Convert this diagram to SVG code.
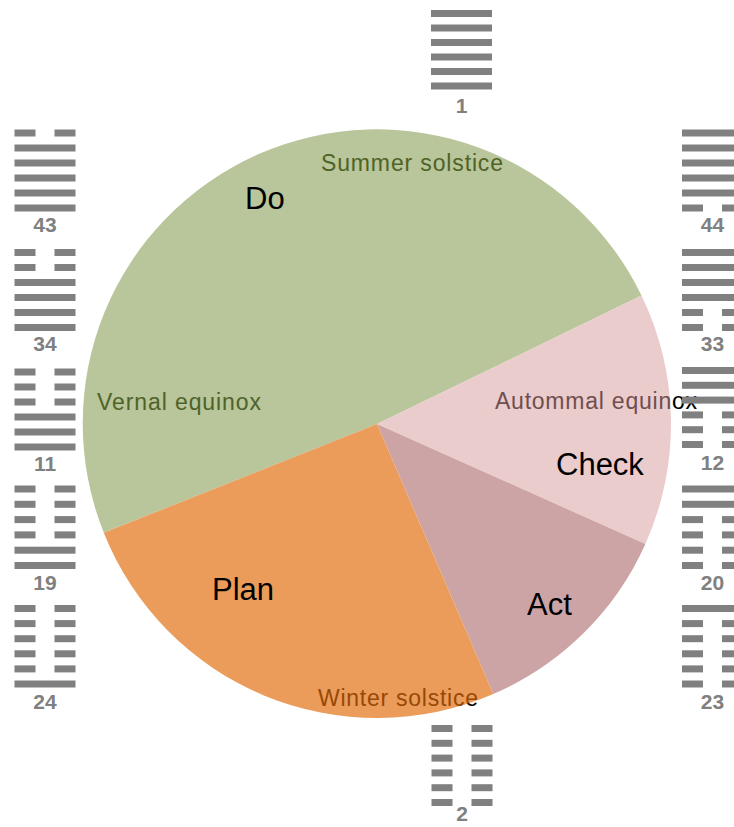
<svg xmlns="http://www.w3.org/2000/svg" xmlns:xlink="http://www.w3.org/1999/xlink" width="734" height="827" viewBox="0 0 734 827">
<style>
.num{font-family:"Liberation Sans",Arial,sans-serif;font-size:21px;font-weight:bold;fill:#808080;text-anchor:middle}
.big{font-family:"Liberation Sans",Arial,sans-serif;font-size:31px;fill:#000}
.small{font-family:"Liberation Sans",Arial,sans-serif;font-size:23px;fill:url(#ink)}
.bar{fill:#808080}
</style>
<defs>
<g id="yang"><rect class="bar" x="0" y="-3.5" width="61" height="7"/></g>
<g id="yin"><rect class="bar" x="0" y="-3.5" width="21" height="7"/><rect class="bar" x="40" y="-3.5" width="21" height="7"/></g>
<path id="pGreen" d="M377,424 L641.5,295.6 A294,294 0 0 0 103.8,532.7 Z"/>
<path id="pPink" d="M377,424 L641.5,295.6 A294,294 0 0 1 645.4,544 Z"/>
<path id="pMauve" d="M377,424 L645.4,544 A294,294 0 0 1 493.3,694 Z"/>
<path id="pOrange" d="M377,424 L493.3,694 A294,294 0 0 1 103.8,532.7 Z"/>
<pattern id="ink" patternUnits="userSpaceOnUse" x="0" y="0" width="734" height="827">
<rect x="0" y="0" width="734" height="827" fill="#000"/>
<use xlink:href="#pGreen" fill="#4F6228"/>
<use xlink:href="#pPink" fill="#6E4E4E"/>
<use xlink:href="#pMauve" fill="#5E3E3F"/>
<use xlink:href="#pOrange" fill="#984807"/>
</pattern>
</defs>
<rect x="0" y="0" width="734" height="827" fill="#fff"/>

<g id="pie">
<g id="slice-do"><use xlink:href="#pGreen" fill="#B9C59A"/></g>
<g id="slice-check"><use xlink:href="#pPink" fill="#EBCCCC"/></g>
<g id="slice-act"><use xlink:href="#pMauve" fill="#CDA4A5"/></g>
<g id="slice-plan"><use xlink:href="#pOrange" fill="#EB9C5A"/></g>
</g>

<g id="labels">
<text class="big" x="245" y="209">Do</text>
<text class="big" x="556" y="475">Check</text>
<text class="big" x="527" y="615">Act</text>
<text class="big" x="212" y="600">Plan</text>
<text class="small" x="321" y="171" textLength="182">Summer solstice</text>
<text class="small" x="97" y="410" textLength="164">Vernal equinox</text>
<text class="small" x="495" y="409" textLength="202">Autommal equinox</text>
<text class="small" x="318" y="706" textLength="160">Winter solstice</text>
</g>

<g id="hex-1">
<use xlink:href="#yang" x="431" y="13.5"/><use xlink:href="#yang" x="431" y="28"/><use xlink:href="#yang" x="431" y="42.5"/><use xlink:href="#yang" x="431" y="57"/><use xlink:href="#yang" x="431" y="71.5"/><use xlink:href="#yang" x="431" y="86"/>
<text class="num" x="461.5" y="113">1</text>
</g>
<g id="hex-2">
<use xlink:href="#yin" x="431.5" y="728.5"/><use xlink:href="#yin" x="431.5" y="743.3"/><use xlink:href="#yin" x="431.5" y="758.1"/><use xlink:href="#yin" x="431.5" y="772.9"/><use xlink:href="#yin" x="431.5" y="787.7"/><use xlink:href="#yin" x="431.5" y="802.5"/>
<text class="num" x="462" y="821">2</text>
</g>

<g id="hex-43">
<use xlink:href="#yin" x="14.5" y="133"/><use xlink:href="#yang" x="14.5" y="148"/><use xlink:href="#yang" x="14.5" y="163"/><use xlink:href="#yang" x="14.5" y="178"/><use xlink:href="#yang" x="14.5" y="193"/><use xlink:href="#yang" x="14.5" y="208"/>
<text class="num" x="45" y="232">43</text>
</g>
<g id="hex-34">
<use xlink:href="#yin" x="14.5" y="252.5"/><use xlink:href="#yin" x="14.5" y="267.5"/><use xlink:href="#yang" x="14.5" y="282.5"/><use xlink:href="#yang" x="14.5" y="297.5"/><use xlink:href="#yang" x="14.5" y="312.5"/><use xlink:href="#yang" x="14.5" y="327.5"/>
<text class="num" x="45" y="351">34</text>
</g>
<g id="hex-11">
<use xlink:href="#yin" x="14.5" y="372"/><use xlink:href="#yin" x="14.5" y="387"/><use xlink:href="#yin" x="14.5" y="402"/><use xlink:href="#yang" x="14.5" y="417"/><use xlink:href="#yang" x="14.5" y="432"/><use xlink:href="#yang" x="14.5" y="447"/>
<text class="num" x="45" y="471">11</text>
</g>
<g id="hex-19">
<use xlink:href="#yin" x="14.5" y="489"/><use xlink:href="#yin" x="14.5" y="504.3"/><use xlink:href="#yin" x="14.5" y="519.6"/><use xlink:href="#yin" x="14.5" y="534.9"/><use xlink:href="#yang" x="14.5" y="550.2"/><use xlink:href="#yang" x="14.5" y="565.5"/>
<text class="num" x="45" y="590">19</text>
</g>
<g id="hex-24">
<use xlink:href="#yin" x="14.5" y="608.5"/><use xlink:href="#yin" x="14.5" y="623.6"/><use xlink:href="#yin" x="14.5" y="638.7"/><use xlink:href="#yin" x="14.5" y="653.8"/><use xlink:href="#yin" x="14.5" y="668.9"/><use xlink:href="#yang" x="14.5" y="684"/>
<text class="num" x="45" y="709">24</text>
</g>

<g id="hex-44">
<use xlink:href="#yang" x="682" y="133"/><use xlink:href="#yang" x="682" y="148"/><use xlink:href="#yang" x="682" y="163"/><use xlink:href="#yang" x="682" y="178"/><use xlink:href="#yang" x="682" y="193"/><use xlink:href="#yin" x="682" y="208"/>
<text class="num" x="712.5" y="232">44</text>
</g>
<g id="hex-33">
<use xlink:href="#yang" x="682" y="252.5"/><use xlink:href="#yang" x="682" y="267.5"/><use xlink:href="#yang" x="682" y="282.5"/><use xlink:href="#yang" x="682" y="297.5"/><use xlink:href="#yin" x="682" y="312.5"/><use xlink:href="#yin" x="682" y="327.5"/>
<text class="num" x="712.5" y="351">33</text>
</g>
<g id="hex-12">
<use xlink:href="#yang" x="682" y="370.5"/><use xlink:href="#yang" x="682" y="385.3"/><use xlink:href="#yang" x="682" y="400.1"/><use xlink:href="#yin" x="682" y="414.9"/><use xlink:href="#yin" x="682" y="429.7"/><use xlink:href="#yin" x="682" y="444.5"/>
<text class="num" x="712.5" y="470">12</text>
</g>
<g id="hex-20">
<use xlink:href="#yang" x="682" y="489"/><use xlink:href="#yang" x="682" y="504.3"/><use xlink:href="#yin" x="682" y="519.6"/><use xlink:href="#yin" x="682" y="534.9"/><use xlink:href="#yin" x="682" y="550.2"/><use xlink:href="#yin" x="682" y="565.5"/>
<text class="num" x="712.5" y="590">20</text>
</g>
<g id="hex-23">
<use xlink:href="#yang" x="682" y="608.5"/><use xlink:href="#yin" x="682" y="623.6"/><use xlink:href="#yin" x="682" y="638.7"/><use xlink:href="#yin" x="682" y="653.8"/><use xlink:href="#yin" x="682" y="668.9"/><use xlink:href="#yin" x="682" y="684"/>
<text class="num" x="712.5" y="709">23</text>
</g>
</svg>
